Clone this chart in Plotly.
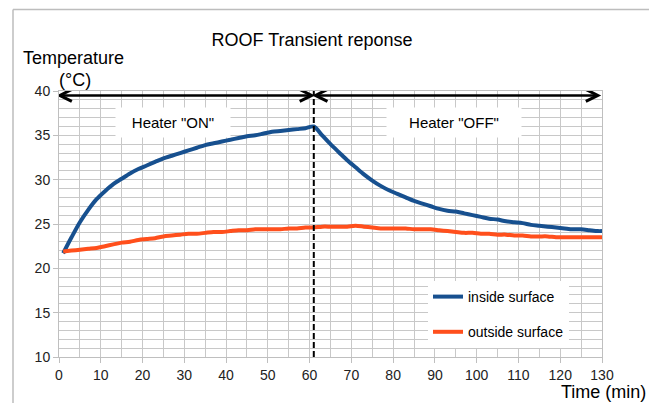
import plotly.graph_objects as go

time_min = [1, 3, 5, 7, 9, 11, 13, 15, 17, 19, 21, 23, 25, 27, 29, 31, 33, 35, 37, 39,
            41, 43, 45, 47, 49, 51, 53, 55, 57, 59, 61, 63, 65, 67, 69, 71, 73, 75, 77, 79,
            81, 83, 85, 87, 89, 91, 93, 95, 97, 99, 101, 103, 105, 107, 109, 111, 113, 115,
            117, 119, 121, 123, 125, 127, 129, 130]

inside_surface = [21.7, 23.5, 25.2, 26.6, 27.8, 28.7, 29.5, 30.1, 30.7, 31.2,
                  31.6, 32.0, 32.4, 32.7, 33.0, 33.3, 33.6, 33.9, 34.1, 34.3,
                  34.5, 34.7, 34.9, 35.0, 35.2, 35.4, 35.5, 35.6, 35.7, 35.8,
                  36.0, 35.0, 34.0, 33.1, 32.2, 31.4, 30.6, 29.9, 29.3, 28.8,
                  28.4, 28.0, 27.6, 27.3, 27.0, 26.7, 26.5, 26.4, 26.2, 26.0,
                  25.8, 25.6, 25.5, 25.3, 25.2, 25.1, 24.9, 24.8, 24.7, 24.6,
                  24.5, 24.4, 24.4, 24.3, 24.2, 24.2]

outside_surface = [21.9, 22.0, 22.1, 22.2, 22.3, 22.5, 22.7, 22.9, 23.0, 23.2,
                   23.3, 23.4, 23.6, 23.7, 23.8, 23.9, 23.9, 24.0, 24.1, 24.1,
                   24.2, 24.3, 24.3, 24.4, 24.4, 24.4, 24.4, 24.5, 24.5, 24.6,
                   24.6, 24.7, 24.7, 24.7, 24.7, 24.8, 24.7, 24.6, 24.5, 24.5,
                   24.5, 24.5, 24.4, 24.4, 24.4, 24.3, 24.2, 24.1, 24.0, 24.0,
                   23.9, 23.9, 23.8, 23.8, 23.7, 23.7, 23.6, 23.6, 23.6, 23.5,
                   23.5, 23.5, 23.5, 23.5, 23.5, 23.5]

heater_switch_time = 61
phase_labels = ['Heater "ON"', 'Heater "OFF"']

FONT = "Liberation Sans, Arial, sans-serif"
GRID = "#C8C8C8"
AXIS = "#BFBFBF"

W, H = 649, 403
PL, PR, PT, PB = 59, 602, 91, 357          # plot area in page pixels
L, R, T, B = PL, W - PR, PT, H - PB
pw, ph = W - L - R, H - T - B


def px_x(p):
    return (p - PL) / pw


def px_y(p):
    return (PB - p) / ph


fig = go.Figure()
fig.add_trace(go.Scatter(x=time_min, y=inside_surface, mode="lines", name="inside surface",
                         line=dict(color="#17508F", width=4, shape="spline", smoothing=0.8),
                         legendgroup="a"))
fig.add_trace(go.Scatter(x=time_min, y=outside_surface, mode="lines", name="outside surface",
                         line=dict(color="#FF4F1C", width=4, shape="spline", smoothing=0.8),
                         legendgroup="b"))

axis_common = dict(showgrid=True, gridcolor=GRID, gridwidth=1, zeroline=False,
                   showline=True, linecolor=AXIS, linewidth=1, mirror=True,
                   ticks="outside", ticklen=5, tickcolor=AXIS,
                   tickfont=dict(family=FONT, size=14, color="#222222"))

fig.update_xaxes(range=[0, 130], tick0=0, dtick=10,
                 minor=dict(dtick=5, showgrid=True, gridcolor=GRID, gridwidth=1),
                 **axis_common)
fig.update_yaxes(range=[10, 40], tick0=10, dtick=5,
                 minor=dict(dtick=1, showgrid=True, gridcolor=GRID, gridwidth=1),
                 **axis_common)

arrow_y = 39.5
shapes = []
shapes.append(dict(type="line", xref="x", yref="y", x0=heater_switch_time, x1=heater_switch_time,
                   y0=10, y1=40, line=dict(color="black", width=2, dash="6px,3px")))
for (a, b) in [(0.2, 60.5), (61.4, 129.0)]:
    shapes.append(dict(type="line", xref="x", yref="y", x0=a, x1=b, y0=arrow_y, y1=arrow_y,
                       line=dict(color="black", width=2.5)))
for (xa, d) in [(0.2, 1), (60.5, -1), (61.4, 1), (129.0, -1)]:
    shapes.append(dict(type="path", xref="x", yref="y", xsizemode="pixel", ysizemode="pixel",
                       xanchor=xa, yanchor=arrow_y,
                       path=f"M {12*d},6 L 0,0 L {12*d},-6",
                       line=dict(color="black", width=3)))
# outer chart frame: left and top edges only
shapes.append(dict(type="line", xref="paper", yref="paper",
                   x0=px_x(13), x1=px_x(13), y0=px_y(403), y1=px_y(9.5),
                   line=dict(color="#BDBDBD", width=1.5)))
shapes.append(dict(type="line", xref="paper", yref="paper",
                   x0=px_x(13), x1=px_x(649), y0=px_y(9.5), y1=px_y(9.5),
                   line=dict(color="#BDBDBD", width=1.5)))

annotations = [
    dict(text="Temperature", xref="paper", yref="paper", x=px_x(21), y=px_y(58),
         xanchor="left", yanchor="middle", showarrow=False,
         font=dict(family=FONT, size=18, color="black")),
    dict(text="(°C)", xref="paper", yref="paper", x=px_x(57), y=px_y(80),
         xanchor="left", yanchor="middle", showarrow=False,
         font=dict(family=FONT, size=18, color="black")),
    dict(text="Time (min)", xref="paper", yref="paper", x=px_x(648), y=px_y(392),
         xanchor="right", yanchor="middle", showarrow=False,
         font=dict(family=FONT, size=18, color="black")),
    dict(text=phase_labels[0], xref="x", yref="y", x=27.3, y=36.4, showarrow=False,
         bgcolor="white", width=112, height=27, borderpad=1,
         font=dict(family=FONT, size=15, color="black")),
    dict(text=phase_labels[1], xref="x", yref="y", x=94.6, y=36.4, showarrow=False,
         bgcolor="white", width=132, height=27, borderpad=1,
         font=dict(family=FONT, size=15, color="black")),
]

fig.update_layout(
    width=W, height=H,
    margin=dict(l=L, r=R, t=T, b=B),
    paper_bgcolor="white", plot_bgcolor="white",
    title=dict(text="ROOF Transient reponse", x=312 / W, y=1 - 40 / H,
               xanchor="center", yanchor="middle",
               font=dict(family=FONT, size=18, color="black")),
    showlegend=True,
    legend=dict(x=px_x(428), y=px_y(281), xanchor="left", yanchor="top",
                bgcolor="white", borderwidth=0, traceorder="grouped", tracegroupgap=14,
                font=dict(family=FONT, size=14, color="black")),
    shapes=shapes,
    annotations=annotations,
)

fig.write_html(
    "out.html",
    config={"displayModeBar": False},
    post_script="document.body.style.margin='0';document.body.style.overflow='hidden';",
)
